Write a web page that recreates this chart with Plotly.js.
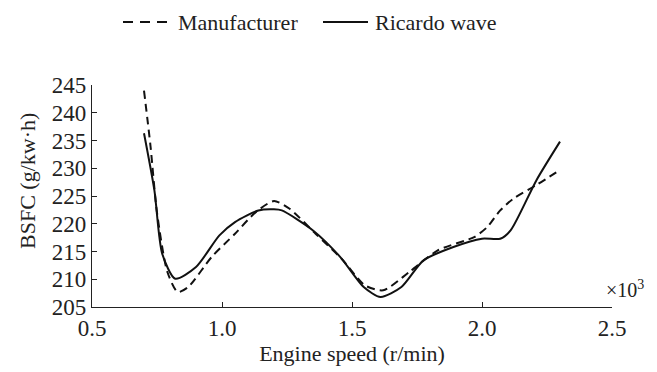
<!DOCTYPE html>
<html>
<head>
<meta charset="utf-8">
<script src="https://cdn.plot.ly/plotly-3.0.1.min.js"></script>
<style>html,body{margin:0;padding:0;background:#fff;}#chart{width:657px;height:372px;}</style>
</head>
<body>
<div id="chart"></div>
<script>
const manuSpeed = [0.70,0.725,0.75,0.79,0.83,0.87,0.96,1.05,1.13,1.20,1.26,1.36,1.46,1.55,1.62,1.72,1.83,1.97,2.02,2.07,2.12,2.21,2.30];
const manuBsfc  = [244,234,222,211.3,207.7,208.6,214,218.2,222.1,224.1,222.7,218.2,213.7,208.9,208,211.3,215.2,217.6,219.4,222.4,224.5,227,229.7];
const ricSpeed = [0.70,0.74,0.77,0.82,0.90,0.99,1.05,1.14,1.20,1.23,1.35,1.455,1.545,1.61,1.69,1.775,1.89,2.00,2.07,2.11,2.21,2.30];
const ricBsfc  = [236.3,226,214.6,210.1,212.2,217.9,220.3,222.4,222.6,222.4,218.8,214,208.6,206.8,208.6,213.4,215.8,217.3,217.3,218.8,227.9,234.8];
const xTicks = [0.5,1.0,1.5,2.0,2.5];
const xTickText = ['0.5','1.0','1.5','2.0','2.5'];
const yTicks = [205,210,215,220,225,230,235,240,245];
const seriesNames = ['Manufacturer','Ricardo wave'];

const fam = '"Liberation Serif","DejaVu Serif",serif';
const font = {family:fam, size:22, color:'#222'};
const tickFont = {family:fam, size:23, color:'#222'};

const traces = [
  {x:manuSpeed, y:manuBsfc, name:seriesNames[0], mode:'lines',
   line:{color:'#111', width:2, dash:'8px,5px', shape:'spline', smoothing:0.7}},
  {x:ricSpeed, y:ricBsfc, name:seriesNames[1], mode:'lines',
   line:{color:'#111', width:2, shape:'spline', smoothing:0.7}}
];

// legend placed in paper coordinates (plot area 92..612 px wide, 85..307 px tall)
const px = v => (v - 92) / 520;
const py = v => (307 - v) / 222;
const legY = py(22);

const layout = {
  width:657, height:372,
  margin:{l:92, r:45, t:85, b:65},
  paper_bgcolor:'#fff', plot_bgcolor:'#fff',
  font:font,
  showlegend:false,
  xaxis:{range:[0.5,2.5], tickvals:xTicks, ticktext:xTickText, ticks:'inside', ticklen:5,
         tickcolor:'#222', showline:true, linecolor:'#222', linewidth:1.2, showgrid:false,
         zeroline:false, automargin:false, tickfont:tickFont,
         title:{text:'Engine speed (r/min)', font:font, standoff:4}},
  yaxis:{range:[205,245], tickvals:yTicks, ticks:'inside', ticklen:5,
         tickcolor:'#222', showline:true, linecolor:'#222', linewidth:1.2, showgrid:false,
         zeroline:false, automargin:false, tickfont:tickFont},
  shapes:[
    {type:'line', xref:'paper', yref:'paper', x0:px(123), x1:px(168), y0:legY, y1:legY,
     line:{color:'#111', width:2.2, dash:'10px,7px'}},
    {type:'line', xref:'paper', yref:'paper', x0:px(323), x1:px(368), y0:legY, y1:legY,
     line:{color:'#111', width:2}}
  ],
  annotations:[
    {xref:'paper', yref:'paper', x:px(176), y:legY, xanchor:'left', yanchor:'middle',
     text:seriesNames[0], showarrow:false, font:font},
    {xref:'paper', yref:'paper', x:px(373), y:legY, xanchor:'left', yanchor:'middle',
     text:seriesNames[1], showarrow:false, font:font},
    {xref:'paper', yref:'paper', x:px(27), y:py(181), xanchor:'center', yanchor:'middle',
     textangle:-90, text:'BSFC (g/kw·h)', showarrow:false, font:font},
    {xref:'paper', yref:'paper', x:0.985, y:0.08, xanchor:'left', yanchor:'middle',
     text:'×10<sup>3</sup>', showarrow:false, font:{family:fam, size:20, color:'#222'}}
  ]
};

Plotly.newPlot('chart', traces, layout, {staticPlot:true, displayModeBar:false});
</script>
</body>
</html>
